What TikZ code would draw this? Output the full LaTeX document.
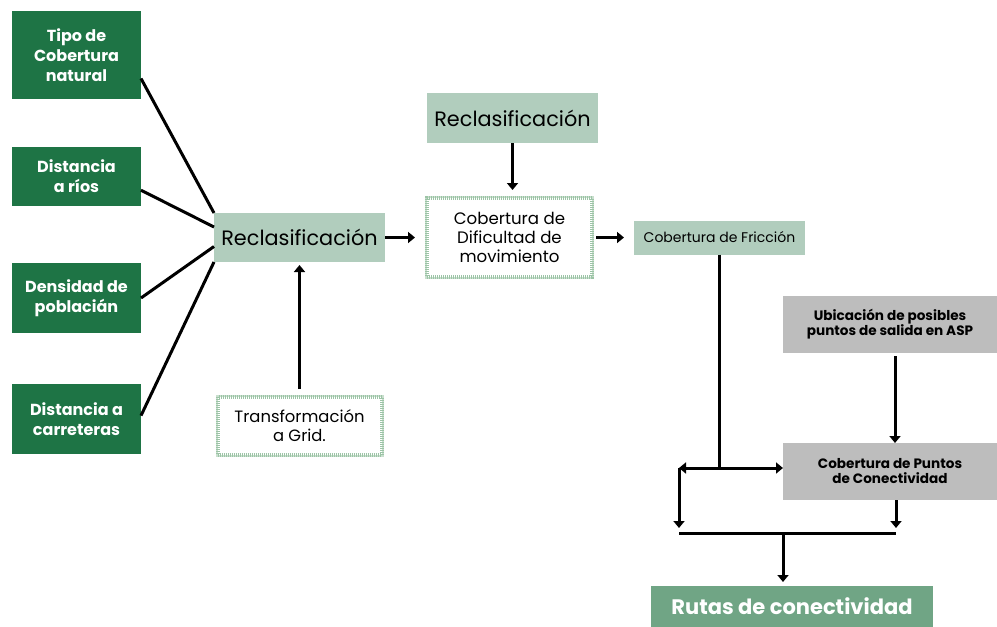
\documentclass[tikz,border=0pt]{standalone}
\usepackage{fontspec}
\setmainfont{Poppins}
\usetikzlibrary{shapes, arrows.meta, positioning, calc}
\usepackage{xcolor}

\definecolor{darkgreen}{HTML}{1E7445}
\definecolor{palegreen}{HTML}{B1CDBD}
\definecolor{midgreen}{HTML}{70A585}
\definecolor{hatchgreen}{HTML}{9CC4A6}
\definecolor{boxgray}{HTML}{BDBDBD}

\begin{document}
\begin{tikzpicture}[x=0.5pt, y=-0.5pt,
        factor/.style={rectangle, fill=darkgreen, text=white, align=center, minimum width=64.5pt, font=\fontsize{8}{10}\selectfont\bfseries, inner sep=0pt, outer sep=0pt},
        process/.style={rectangle, fill=palegreen, align=center, inner sep=0pt, outer sep=0pt},
        layer/.style={rectangle, preaction={draw=hatchgreen!55, solid, line width=2pt}, draw=hatchgreen, line width=2pt, dash pattern=on 0.5pt off 0.5pt, fill=white, align=center, font=\fontsize{8.3}{9.5}\selectfont, inner sep=0pt, outer sep=0pt},
        point/.style={rectangle, fill=boxgray, align=center, minimum width=107pt, minimum height=28.5pt, font=\fontsize{6.8}{7.5}\selectfont\bfseries, inner sep=0pt, outer sep=0pt},
        link/.style={line width=1.5pt},
        arrow/.style={line width=1.5pt, -{Triangle[width=5.5pt, length=3.5pt]}}
    ]
        \useasboundingbox (0,0) rectangle (997,627);

        % Nodes
        \node [factor, minimum height=44pt] (tipo) at (76.5,55) {Tipo de\\Cobertura\\natural};
        \node [factor, minimum height=29.5pt, below=24pt of tipo] (rios) {Distancia\\a ríos};
        \node [factor, minimum height=35pt, below=28.5pt of rios] (densidad) {Densidad de\\poblacián};
        \node [factor, minimum height=35pt, below=25.5pt of densidad] (carreteras) {Distancia a\\carreteras};

        \node [layer, minimum width=82.5pt, minimum height=39.5pt] (dificultad) at (509.5,237.5) {Cobertura de\\Dificultad de\\movimiento};
        \node [process, minimum width=85.5pt, minimum height=24.5pt, font=\fontsize{10.4}{12}\selectfont, left=21pt of dificultad] (reclas) {Reclasificación};
        \node [process, minimum width=85.5pt, minimum height=25pt, font=\fontsize{10.4}{12}\selectfont, above=27.5pt of dificultad, xshift=1.5pt] (reclastop) {Reclasificación};
        \node [layer, minimum width=82pt, minimum height=29pt, font=\fontsize{8.2}{9.5}\selectfont, below=67.5pt of reclas] (grid) {Transformación\\a Grid.};
        \node [process, minimum width=85.5pt, minimum height=17pt, font=\fontsize{7}{8}\selectfont, right=21pt of dificultad] (friccion) {Cobertura de Fricción};

        \node [point] (ubicacion) at (890,324.5) {Ubicación de posibles\\puntos de salida en ASP};
        \node [point, below=45pt of ubicacion] (puntos) {Cobertura de Puntos\\de Conectividad};
        \node [process, fill=midgreen, text=white, minimum width=141pt, minimum height=20.5pt, font=\fontsize{10.5}{12}\selectfont\bfseries] (rutas) at (792,606.5) {Rutas de conectividad};

        % Junctions
        \coordinate (split) at (friccion.south |- 0,468);
        \coordinate (lcorner) at (679,468);
        \coordinate (mergeL) at (679,533);
        \coordinate (mergeR) at (896,533);
        \coordinate (mergeC) at (783,533);

        % Arrows
        \draw [link] (tipo.-20) -- (reclas.north west);
        \draw [link] (rios.-12) -- (reclas.173);
        \draw [link] (densidad.east) -- (reclas.186);
        \draw [link] (carreteras.3) -- (reclas.south west);
        \draw [arrow, shorten >=6pt] (reclas) -- (dificultad);
        \draw [arrow, shorten >=4pt] (reclastop.south) -- (reclastop.south |- dificultad.north);
        \draw [arrow, shorten <=4pt, shorten >=1.5pt] (grid) -- (reclas);
        \draw [arrow, shorten <=2pt, shorten >=5pt] (dificultad) -- (friccion);
        \draw [link] (friccion.south) -- (split);
        \draw [arrow] (split) -- (split -| puntos.west);
        \draw [arrow] (split) -- (lcorner);
        \draw [arrow, shorten >=2.5pt] (lcorner) -- (mergeL);
        \draw [arrow, shorten <=1.5pt] ([xshift=2.5pt]ubicacion.south) -- ([xshift=2.5pt]puntos.north);
        \draw [arrow, shorten >=2.5pt] (puntos.south -| mergeR) -- (mergeR);
        \draw [link] (mergeL) -- (mergeR);
        \draw [arrow, shorten >=2pt] (mergeC) -- (mergeC |- rutas.north);
    \end{tikzpicture}
\end{document}
